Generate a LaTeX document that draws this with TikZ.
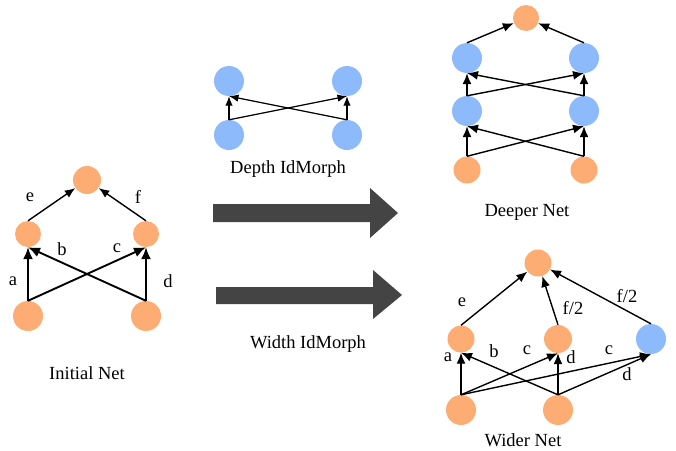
\documentclass[tikz,border=0pt]{standalone}
\usepackage{fontspec}
\setmainfont{Liberation Serif}
\usetikzlibrary{arrows.meta}
\definecolor{orn}{RGB}{253,173,116}
\definecolor{blu}{RGB}{141,186,251}
\definecolor{bigarrow}{RGB}{68,68,68}
\tikzset{
  neuron/.style={circle,draw=none,inner sep=0pt,minimum size=#1},
  on/.style={neuron=#1,fill=orn},
  bn/.style={neuron=#1,fill=blu},
  lab/.style={inner sep=0pt,font=\fontsize{18.5}{20}\selectfont},
  captext/.style={inner sep=0pt,font=\fontsize{18.5}{20}\selectfont},
  thick edge/.style={line width=1.9pt,-{Latex[length=12pt,width=10pt]}},
  top edge/.style={line width=1.4pt,-{Latex[length=10.5pt,width=8.5pt]}},
  thin edge/.style={line width=1.4pt,-{Latex[length=11pt,width=9pt]}},
  small edge/.style={line width=1.2pt,-{Latex[length=9.5pt,width=7.5pt]}},
}
\begin{document}
\begin{tikzpicture}[x=1pt,y=-1pt]
\useasboundingbox (0,0) rectangle (676,450);
% ---------- Initial Net ----------
\node[on=28] (it) at (87,180) {};
\node[on=26] (iml) at (28,234) {};
\node[on=26] (imr) at (146,234) {};
\node[on=30] (ibl) at (28,316) {};
\node[on=30] (ibr) at (146,316) {};
\draw[thick edge] (ibl.north) -- (iml.south);
\draw[thick edge] (ibl.north) -- (imr.south);
\draw[thick edge] (ibr.north) -- (iml.south);
\draw[thick edge] (ibr.north) -- (imr.south);
\draw[top edge] (iml.north) -- (it);
\draw[top edge] (imr.north) -- (it);
\node[lab] (le) at (30,197) {e};
\node[lab] (lf) at (138,197) {f};
\node[lab] (lb) at (62,249) {b};
\node[lab] (lc) at (117,248) {c};
\node[lab] (la) at (13,281) {a};
\node[lab] (ld) at (168,281) {d};
\node[captext] (capi) at (87,373) {Initial Net};
% ---------- Depth IdMorph ----------
\node[bn=30] (dtl) at (229,81) {};
\node[bn=30] (dtr) at (347,81) {};
\node[bn=30] (dbl) at (229,135) {};
\node[bn=30] (dbr) at (347,135) {};
\draw[small edge] (dbl.north) -- (dtl.south);
\draw[small edge] (dbl.north) -- (dtr.south);
\draw[small edge] (dbr.north) -- (dtl.south);
\draw[small edge] (dbr.north) -- (dtr.south);
\node[captext] (capd) at (288,169) {Depth IdMorph};
% ---------- Big arrows ----------
\fill[bigarrow] (213,204) -- (370,204) -- (370,188) -- (398,213) -- (370,238) -- (370,222) -- (213,222) -- cycle;
\fill[bigarrow] (216,287) -- (373,287) -- (373,270) -- (402,295) -- (373,319) -- (373,304) -- (216,304) -- cycle;
\node[captext] (capw) at (308,344) {Width IdMorph};
% ---------- Deeper Net ----------
\node[on=26] (pt) at (526,18) {};
\node[bn=30] (pul) at (467,58) {};
\node[bn=30] (pur) at (584,58) {};
\node[bn=30] (pll) at (467,111) {};
\node[bn=30] (plr) at (584,111) {};
\node[on=27] (pbl) at (467,170) {};
\node[on=27] (pbr) at (584,170) {};
\draw[thin edge] (pbl.north) -- (pll.south);
\draw[thin edge] (pbl.north) -- (plr.south);
\draw[thin edge] (pbr.north) -- (pll.south);
\draw[thin edge] (pbr.north) -- (plr.south);
\draw[thin edge] (pll.north) -- (pul.south);
\draw[thin edge] (pll.north) -- (pur.south);
\draw[thin edge] (plr.north) -- (pul.south);
\draw[thin edge] (plr.north) -- (pur.south);
\draw[thin edge] (pul.north) -- (pt);
\draw[thin edge] (pur.north) -- (pt);
\node[captext] (capp) at (527,212) {Deeper Net};
% ---------- Wider Net ----------
\node[on=27] (wt) at (538,263) {};
\node[on=27] (wml) at (461,339) {};
\node[on=28] (wmc) at (558,339) {};
\node[bn=30] (wmr) at (651,339) {};
\node[on=30] (wbl) at (461,410) {};
\node[on=30] (wbc) at (558,410) {};
\draw[thin edge] (wbl.north) -- (wml.south);
\draw[thin edge] (wbl.north) -- (wmc.south);
\draw[thin edge] (wbl.north) -- (wmr.south);
\draw[thin edge] (wbc.north) -- (wml.south);
\draw[thin edge] (wbc.north) -- (wmc.south);
\draw[thin edge] (wbc.north) -- (wmr.south);
\draw[thin edge] (wml.north) -- (wt);
\draw[thin edge] (wmc.north) -- (wt);
\draw[thin edge] (wmr.north) -- (wt);
\node[lab] (we) at (462,302) {e};
\node[lab] (wf1) at (573,308) {f/2};
\node[lab] (wf2) at (627,296) {f/2};
\node[lab] (wa) at (448,357) {a};
\node[lab] (wb) at (494,351) {b};
\node[lab] (wc1) at (527,350) {c};
\node[lab] (wd1) at (571,357) {d};
\node[lab] (wc2) at (609,350) {c};
\node[lab] (wd2) at (627,374) {d};
\node[captext] (capw2) at (523,440) {Wider Net};
\end{tikzpicture}
\end{document}
